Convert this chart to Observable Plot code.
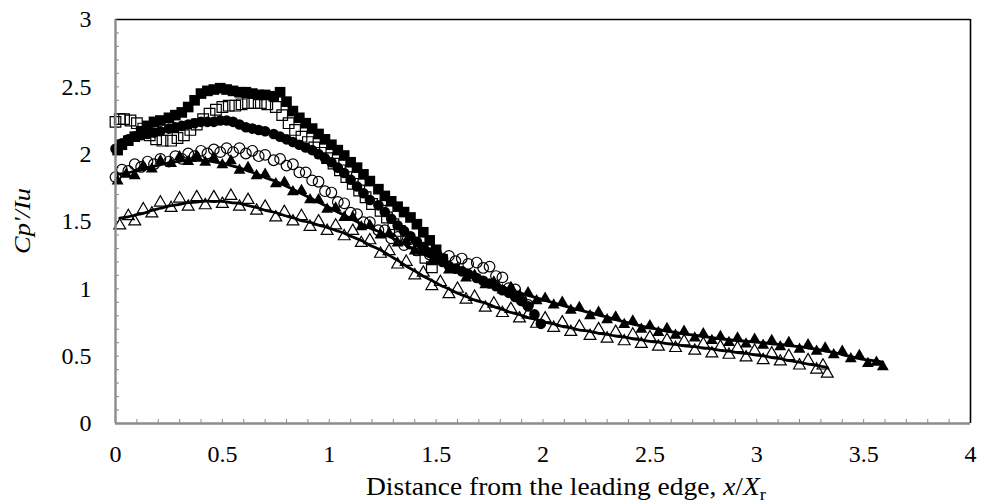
<!DOCTYPE html>
<html><head><meta charset="utf-8">
<script src="https://cdn.jsdelivr.net/npm/d3@7"></script>
<script src="https://cdn.jsdelivr.net/npm/@observablehq/plot@0.6"></script>
<style>html,body{margin:0;padding:0;background:#fff;overflow:hidden}</style>
</head><body><div id="chart"></div>
<script>
// ---- tick labels ----
const xTickLabels = [0, 0.5, 1, 1.5, 2, 2.5, 3, 3.5, 4];
const yTickLabels = [0, 0.5, 1, 1.5, 2, 2.5, 3];
const xLabelParts = ["Distance from the leading edge, ", "x", "/", "X", "r"];
const yLabelText = "Cp'/Iu";

// ---- series values [x, y] ----
const filledSquares = [[0.01,2.03],[0.03,2.07],[0.06,2.10],[0.09,2.13],[0.12,2.17],[0.15,2.21],[0.18,2.24],[0.21,2.25],[0.25,2.27],[0.28,2.29],[0.31,2.31],[0.34,2.35],[0.37,2.40],[0.40,2.45],[0.43,2.47],[0.46,2.48],[0.49,2.49],[0.52,2.48],[0.55,2.47],[0.58,2.46],[0.61,2.46],[0.64,2.45],[0.67,2.44],[0.70,2.44],[0.74,2.43],[0.77,2.46],[0.80,2.39],[0.83,2.32],[0.86,2.27],[0.89,2.23],[0.92,2.19],[0.95,2.15],[0.98,2.11],[1.01,2.07],[1.04,2.03],[1.07,1.99],[1.10,1.94],[1.13,1.90],[1.16,1.85],[1.19,1.80],[1.23,1.74],[1.26,1.69],[1.29,1.65],[1.32,1.61],[1.35,1.57],[1.38,1.53],[1.41,1.48],[1.44,1.42],[1.47,1.36],[1.50,1.29],[1.53,1.22]];
const openSquares = [[0.00,2.24],[0.02,2.26],[0.04,2.26],[0.07,2.25],[0.10,2.23],[0.13,2.19],[0.16,2.14],[0.19,2.11],[0.22,2.10],[0.26,2.10],[0.29,2.12],[0.32,2.14],[0.35,2.18],[0.38,2.22],[0.41,2.26],[0.44,2.30],[0.47,2.33],[0.50,2.35],[0.53,2.36],[0.56,2.36],[0.59,2.37],[0.62,2.38],[0.65,2.38],[0.68,2.38],[0.71,2.37],[0.75,2.35],[0.78,2.29],[0.81,2.23],[0.84,2.18],[0.87,2.13],[0.90,2.09],[0.93,2.05],[0.96,2.01],[0.99,1.97],[1.02,1.93],[1.05,1.88],[1.08,1.83],[1.11,1.78],[1.14,1.73],[1.17,1.68],[1.20,1.63],[1.24,1.58],[1.27,1.53],[1.30,1.48],[1.33,1.43],[1.36,1.38],[1.39,1.34],[1.42,1.29],[1.45,1.23],[1.48,1.16]];
const filledCircles = [[0.00,2.04],[0.03,2.08],[0.06,2.11],[0.09,2.13],[0.12,2.14],[0.15,2.15],[0.18,2.16],[0.21,2.17],[0.25,2.19],[0.28,2.20],[0.31,2.21],[0.34,2.22],[0.37,2.23],[0.40,2.24],[0.43,2.24],[0.46,2.24],[0.49,2.25],[0.52,2.25],[0.55,2.24],[0.58,2.22],[0.61,2.20],[0.64,2.19],[0.67,2.18],[0.70,2.17],[0.74,2.15],[0.77,2.13],[0.80,2.11],[0.83,2.09],[0.86,2.07],[0.89,2.05],[0.92,2.03],[0.95,2.00],[0.98,1.97],[1.01,1.94],[1.04,1.90],[1.07,1.86],[1.10,1.81],[1.13,1.76],[1.16,1.71],[1.19,1.66],[1.23,1.62],[1.26,1.57],[1.29,1.52],[1.32,1.47],[1.35,1.43],[1.38,1.39],[1.41,1.35],[1.44,1.31],[1.47,1.27],[1.50,1.23],[1.53,1.20],[1.56,1.17],[1.59,1.15],[1.62,1.13],[1.65,1.11],[1.69,1.08],[1.72,1.06],[1.75,1.04],[1.78,1.02],[1.81,0.99],[1.84,0.97],[1.87,0.94],[1.90,0.91],[1.93,0.87],[1.96,0.81],[1.99,0.74]];
const openCircles = [[0.00,1.83],[0.03,1.885],[0.06,1.875],[0.09,1.925],[0.12,1.905],[0.15,1.945],[0.18,1.925],[0.21,1.965],[0.25,1.945],[0.28,1.985],[0.31,1.965],[0.34,2.005],[0.37,1.985],[0.40,2.025],[0.43,2.005],[0.46,2.035],[0.49,2.015],[0.52,2.045],[0.55,2.015],[0.58,2.045],[0.61,2.005],[0.64,2.025],[0.67,1.985],[0.70,1.995],[0.74,1.955],[0.77,1.965],[0.80,1.915],[0.83,1.925],[0.86,1.865],[0.89,1.865],[0.92,1.805],[0.95,1.795],[0.98,1.725],[1.01,1.715],[1.04,1.645],[1.07,1.635],[1.10,1.565],[1.13,1.555],[1.16,1.495],[1.19,1.495],[1.23,1.435],[1.26,1.435],[1.29,1.375],[1.32,1.385],[1.35,1.325],[1.38,1.335],[1.41,1.285],[1.44,1.295],[1.47,1.255],[1.50,1.265],[1.53,1.225],[1.56,1.245],[1.59,1.205],[1.62,1.225],[1.65,1.185],[1.69,1.195],[1.72,1.155],[1.75,1.165],[1.78,1.095],[1.81,1.085],[1.84,1.005],[1.87,0.995],[1.90,0.915],[1.93,0.88]];
const filledTriangles = [[0.01,1.80],[0.05,1.85],[0.09,1.84],[0.13,1.91],[0.17,1.89],[0.21,1.95],[0.26,1.93],[0.30,1.98],[0.34,1.945],[0.38,1.985],[0.42,1.94],[0.46,1.97],[0.50,1.92],[0.54,1.95],[0.58,1.88],[0.62,1.90],[0.66,1.84],[0.70,1.85],[0.75,1.78],[0.79,1.79],[0.83,1.72],[0.87,1.73],[0.91,1.66],[0.95,1.66],[0.99,1.59],[1.03,1.60],[1.07,1.53],[1.11,1.53],[1.15,1.46],[1.19,1.47],[1.24,1.40],[1.28,1.41],[1.32,1.34],[1.36,1.35],[1.40,1.28],[1.44,1.28],[1.48,1.20],[1.52,1.21],[1.56,1.14],[1.60,1.15],[1.64,1.08],[1.68,1.10],[1.73,1.03],[1.77,1.05],[1.81,0.99],[1.85,1.01],[1.89,0.95],[1.93,0.97],[1.97,0.91],[2.01,0.93],[2.05,0.88],[2.09,0.90],[2.13,0.84],[2.17,0.86],[2.22,0.80],[2.26,0.825],[2.30,0.77],[2.34,0.79],[2.38,0.735],[2.42,0.76],[2.46,0.70],[2.50,0.725],[2.54,0.675],[2.58,0.705],[2.62,0.655],[2.66,0.685],[2.71,0.635],[2.75,0.665],[2.79,0.615],[2.83,0.645],[2.87,0.60],[2.91,0.635],[2.95,0.59],[2.99,0.625],[3.03,0.58],[3.07,0.615],[3.11,0.57],[3.15,0.60],[3.20,0.55],[3.24,0.585],[3.28,0.535],[3.32,0.56],[3.36,0.51],[3.40,0.535],[3.44,0.48],[3.48,0.505],[3.52,0.445],[3.56,0.455],[3.59,0.42]];
const openTriangles = [[0.02,1.47],[0.06,1.54],[0.09,1.50],[0.13,1.59],[0.17,1.56],[0.21,1.64],[0.26,1.60],[0.30,1.67],[0.34,1.61],[0.38,1.68],[0.42,1.62],[0.46,1.68],[0.50,1.63],[0.54,1.69],[0.58,1.61],[0.62,1.66],[0.66,1.58],[0.70,1.61],[0.75,1.53],[0.79,1.57],[0.83,1.50],[0.87,1.54],[0.91,1.46],[0.95,1.50],[0.99,1.43],[1.03,1.47],[1.07,1.39],[1.11,1.43],[1.15,1.34],[1.19,1.36],[1.24,1.26],[1.28,1.28],[1.32,1.18],[1.36,1.20],[1.40,1.10],[1.44,1.12],[1.48,1.02],[1.52,1.05],[1.56,0.96],[1.60,1.00],[1.64,0.92],[1.68,0.94],[1.73,0.86],[1.77,0.89],[1.81,0.82],[1.85,0.85],[1.89,0.78],[1.93,0.81],[1.97,0.74],[2.01,0.78],[2.05,0.71],[2.09,0.75],[2.13,0.68],[2.17,0.72],[2.22,0.65],[2.26,0.70],[2.30,0.63],[2.34,0.68],[2.38,0.61],[2.42,0.66],[2.46,0.59],[2.50,0.64],[2.54,0.57],[2.58,0.62],[2.62,0.56],[2.66,0.61],[2.71,0.54],[2.75,0.59],[2.79,0.52],[2.83,0.57],[2.87,0.51],[2.91,0.56],[2.95,0.49],[2.99,0.54],[3.03,0.47],[3.07,0.52],[3.11,0.46],[3.15,0.50],[3.20,0.43],[3.24,0.47],[3.28,0.40],[3.31,0.43],[3.33,0.37]];

const toRows = arr => arr.map(([x, y]) => ({x, y}));
const FONT = "'Liberation Serif','Times New Roman',serif";
const minorX = d3.range(0, 4.001, 0.1);
const minorY = d3.range(0, 3.001, 0.1);
const gray = "#8c8c8c";
const ML = 115, MR = 27, MT = 19, MB = 79, W = 997, H = 502;

const dots = (arr, symbol, r, filled) => Plot.dot(toRows(arr), {
  x: "x", y: "y", symbol, r,
  fill: filled ? "black" : "none",
  stroke: filled ? "none" : "black",
  strokeWidth: 1.2
});
const trend = arr => Plot.line(toRows(arr), Plot.windowY({k: 7, anchor: "middle"}, {
  x: "x", y: "y", curve: "basis", stroke: "black", strokeWidth: 2.8
}));

const chart = Plot.plot({
  width: W, height: H,
  marginLeft: ML, marginRight: MR, marginTop: MT, marginBottom: MB,
  x: {domain: [0, 4]},
  y: {domain: [0, 3]},
  style: {fontFamily: FONT, fontSize: "24px", color: "black", background: "white", overflow: "visible"},
  marks: [
    Plot.tickX(minorX, {x: d => d, insetTop: H - MT - MB - 4, stroke: gray, strokeWidth: 1}),
    Plot.tickY(minorY, {y: d => d, insetRight: W - ML - MR - 4, stroke: gray, strokeWidth: 1}),
    Plot.ruleY([3], {stroke: "black", strokeWidth: 1.6}),
    Plot.ruleX([4], {stroke: "black", strokeWidth: 1.6}),
    dots(filledTriangles, "triangle", 4.4, true),
    dots(filledCircles, "circle", 5.3, true),
    dots(openCircles, "circle", 5.3, false),
    dots(filledSquares, "square", 6, true),
    dots(openSquares, "square", 6, false),
    dots(openTriangles, "triangle", 4.4, false),
    trend(filledTriangles),
    trend(openTriangles),
    Plot.ruleX([0], {stroke: gray, strokeWidth: 2.4}),
    Plot.ruleY([0], {stroke: gray, strokeWidth: 2.4}),
    Plot.axisX(xTickLabels, {tickSize: 0, tickPadding: 21, tickFormat: d => String(d), label: null, fontSize: 24}),
    Plot.axisY(yTickLabels, {tickSize: 0, tickPadding: 24, tickFormat: d => String(d), label: null, fontSize: 24})
  ]
});

const svg = d3.select(chart);
const xl = svg.append("text")
  .attr("transform", `translate(566,495) scale(1.1,1)`)
  .attr("text-anchor", "middle")
  .attr("font-family", FONT).attr("font-size", 25).attr("fill", "black");
xl.append("tspan").text(xLabelParts[0]);
xl.append("tspan").attr("font-style", "italic").text(xLabelParts[1]);
xl.append("tspan").text(xLabelParts[2]);
xl.append("tspan").attr("font-style", "italic").text(xLabelParts[3]);
xl.append("tspan").attr("font-size", 17).attr("dy", 5).text(xLabelParts[4]);

svg.append("text")
  .attr("transform", `translate(30,221) rotate(-90) scale(1.1,1)`)
  .attr("text-anchor", "middle")
  .attr("font-family", FONT).attr("font-size", 24).attr("font-style", "italic").attr("fill", "black")
  .text(yLabelText);

document.getElementById("chart").appendChild(chart);
</script>
</body></html>
